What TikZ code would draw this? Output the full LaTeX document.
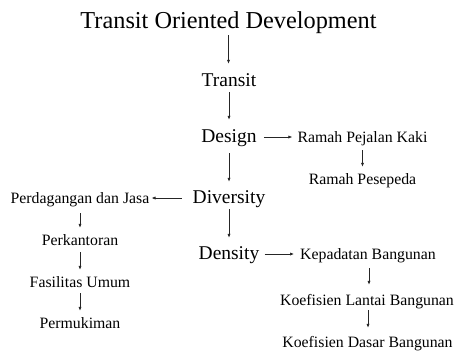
\documentclass[tikz,border=0pt]{standalone}
\usepackage{fontspec}
\setmainfont{Liberation Serif}
\usetikzlibrary{arrows.meta}
\tikzset{
  base/.style={inner sep=0pt, anchor=base, text=black},
  ttl/.style={base, font=\fontsize{24.3}{28}\selectfont, text height=17pt, text depth=5pt},
  mid/.style={base, font=\fontsize{19.5}{23}\selectfont, text height=14pt, text depth=4pt},
  sml/.style={base, font=\fontsize{15.8}{19}\selectfont, text height=11pt, text depth=3pt},
  arr/.style={-{Latex[length=4pt,width=3.2pt]}, line width=0.7pt, draw=black!85}
}
\begin{document}
\begin{tikzpicture}[x=1pt,y=-1pt]
\useasboundingbox (0,0) rectangle (455,354);
% main column
\node[ttl] (tod) at (228.5,28) {Transit Oriented Development};
\node[mid] (transit) at (229,86) {Transit};
\node[mid] (design) at (229,142) {Design};
\node[mid] (diversity) at (229,203) {Diversity};
\node[mid] (density) at (229,259) {Density};
% design branch
\node[sml] (rpk) at (362.5,142) {Ramah Pejalan Kaki};
\node[sml] (rps) at (362.5,184) {Ramah Pesepeda};
% diversity branch
\node[sml] (pdj) at (80,203) {Perdagangan dan Jasa};
\node[sml] (pkt) at (80,245) {Perkantoran};
\node[sml] (fu) at (80,287) {Fasilitas Umum};
\node[sml] (pmk) at (80,328) {Permukiman};
% density branch
\node[sml] (kb) at (368,259) {Kepadatan Bangunan};
\node[sml] (klb) at (367,305) {Koefisien Lantai Bangunan};
\node[sml] (kdb) at (367.5,347) {Koefisien Dasar Bangunan};
% vertical arrows
\draw[arr, shorten <=2pt, shorten >=8pt] (tod.south) -- (tod.south |- transit.north);
\draw[arr, shorten <=2pt, shorten >=8pt] (transit.south) -- (transit.south |- design.north);
\draw[arr, shorten <=7pt, shorten >=7pt] (design.south) -- (design.south |- diversity.north);
\draw[arr, shorten <=2pt, shorten >=7pt] (diversity.south) -- (diversity.south |- density.north);
\draw[arr, shorten <=5pt, shorten >=6pt] (rpk.south) -- (rpk.south |- rps.north);
\draw[arr, shorten <=7pt, shorten >=6pt] (pdj.south) -- (pdj.south |- pkt.north);
\draw[arr, shorten <=4pt, shorten >=6pt] (pkt.south) -- (pkt.south |- fu.north);
\draw[arr, shorten <=3pt, shorten >=6pt] (fu.south) -- (fu.south |- pmk.north);
\draw[arr, shorten <=6pt, shorten >=9pt] ([xshift=1pt]kb.south) -- ([xshift=1pt]kb.south |- klb.north);
\draw[arr, shorten <=2pt, shorten >=8pt] ([xshift=1pt]klb.south) -- ([xshift=1pt]klb.south |- kdb.north);
% horizontal arrows
\draw[arr, shorten <=7pt, shorten >=5pt] (design.east) -- (design.east -| rpk.west);
\draw[arr, shorten <=11pt, shorten >=2pt] (diversity.west) -- (diversity.west -| pdj.east);
\draw[arr, shorten <=5pt, shorten >=6pt] (density.east) -- (density.east -| kb.west);
\end{tikzpicture}
\end{document}
